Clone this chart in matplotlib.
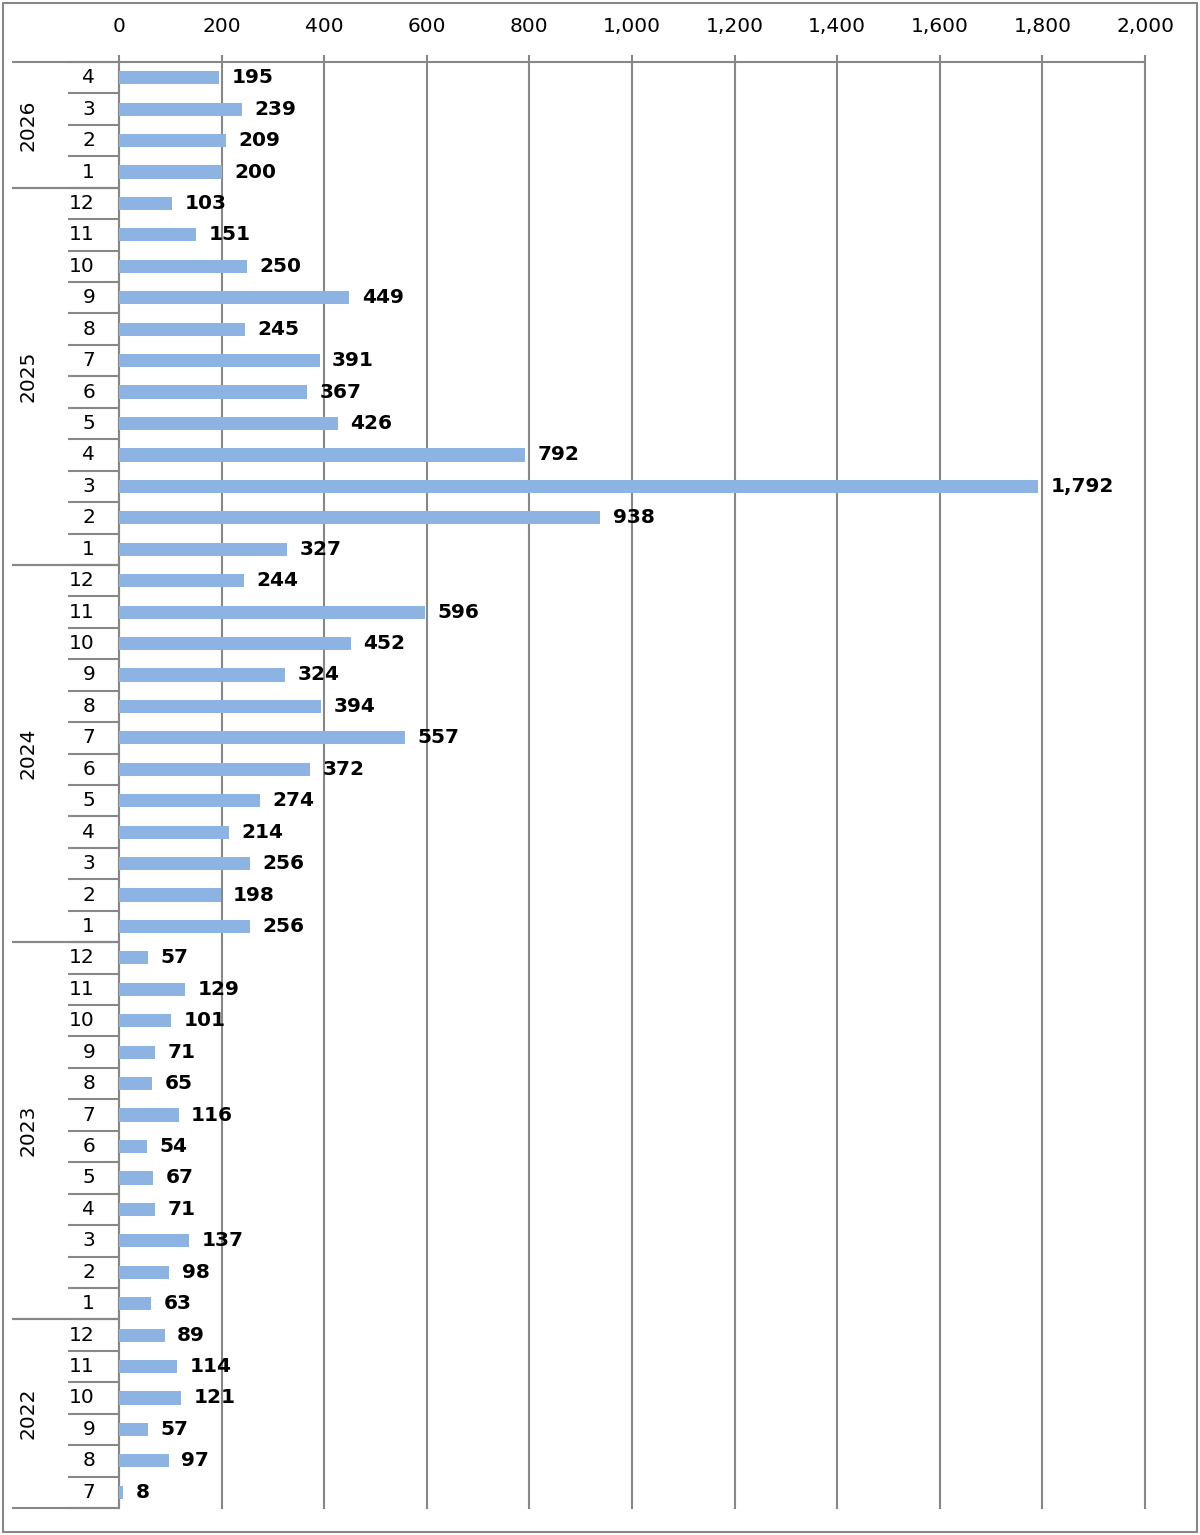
import numpy as np
import matplotlib
matplotlib.use("Agg")
import matplotlib.pyplot as plt
from matplotlib.patches import Rectangle
from matplotlib.ticker import FuncFormatter
import matplotlib.transforms as mtransforms

# monthly counts, chronological order per year
years = ["2022", "2023", "2024", "2025", "2026"]
months = {
    "2022": [7, 8, 9, 10, 11, 12],
    "2023": list(range(1, 13)),
    "2024": list(range(1, 13)),
    "2025": list(range(1, 13)),
    "2026": [1, 2, 3, 4],
}
values = {
    "2022": [8, 97, 57, 121, 114, 89],
    "2023": [63, 98, 137, 71, 67, 54, 116, 65, 71, 101, 129, 57],
    "2024": [256, 198, 256, 214, 274, 372, 557, 394, 324, 452, 596, 244],
    "2025": [327, 938, 1792, 792, 426, 367, 391, 245, 449, 250, 151, 103],
    "2026": [200, 209, 239, 195],
}
xticks = list(range(0, 2001, 200))

BAR = "#8db3e2"
LINE = "#878787"
FS = 14.5

plt.rcParams.update({"font.family": "DejaVu Sans", "font.size": FS})

fig = plt.figure(figsize=(12, 15.35), dpi=100)
ax = fig.add_axes([119 / 1200, 1 - 1508 / 1535, 1026 / 1200, (1508 - 62) / 1535])

vals, labels, groups = [], [], []
for yr in years:
    start = len(vals)
    vals += values[yr]
    labels += [str(m) for m in months[yr]]
    groups.append((yr, start, len(vals)))
pos = np.arange(len(vals))

ax.barh(pos, vals, height=0.42, color=BAR, zorder=3)
for p, v in zip(pos, vals):
    ax.annotate("{:,}".format(v), (v, p), xytext=(9, 0), textcoords="offset points",
                ha="left", va="center", fontweight="bold", fontsize=FS, color="black",
                zorder=4)

ax.set_xlim(0, 2000)
ax.set_ylim(-0.5, len(vals) - 0.5)
ax.set_xticks(xticks)
ax.xaxis.set_major_formatter(FuncFormatter(lambda x, _: "{:,}".format(int(x))))
ax.xaxis.tick_top()
ax.tick_params(axis="x", length=5, width=1.5, color=LINE, pad=14, labelsize=FS)
ax.set_yticks([])
ax.grid(axis="x", color=LINE, linewidth=1.5, zorder=1)
for gl in ax.get_xgridlines():
    gl.set_clip_on(False)
for s in ("right", "bottom"):
    ax.spines[s].set_visible(False)
for s in ("top", "left"):
    ax.spines[s].set_color(LINE)
    ax.spines[s].set_linewidth(1.5)

# category axis: month labels, month separators, year separators and labels
trans = mtransforms.blended_transform_factory(ax.transAxes, ax.transData)
x_month = (68 - 119) / 1026
x_year = (12 - 119) / 1026
for p, lab in zip(pos, labels):
    ax.text((95 - 119) / 1026, p, lab, transform=trans, ha="right", va="center",
            fontsize=FS)
for p in range(len(vals) + 1):
    ax.plot([x_month, 0], [p - 0.5, p - 0.5], transform=trans, color=LINE,
            lw=1.5, clip_on=False, solid_capstyle="butt")
for yr, a, b in groups:
    for edge in (a, b):
        ax.plot([x_year, 0], [edge - 0.5, edge - 0.5], transform=trans, color=LINE,
                lw=1.5, clip_on=False, solid_capstyle="butt")
    ax.text((28 - 119) / 1026, (a + b - 1) / 2, yr, transform=trans, rotation=90,
            ha="center", va="center", fontsize=FS)

fig.patches.append(Rectangle((3 / 1200, 3 / 1535), 1194 / 1200, 1529 / 1535,
                             transform=fig.transFigure, fill=False,
                             edgecolor=LINE, linewidth=1.5))

fig.savefig("out.png", dpi=100)
